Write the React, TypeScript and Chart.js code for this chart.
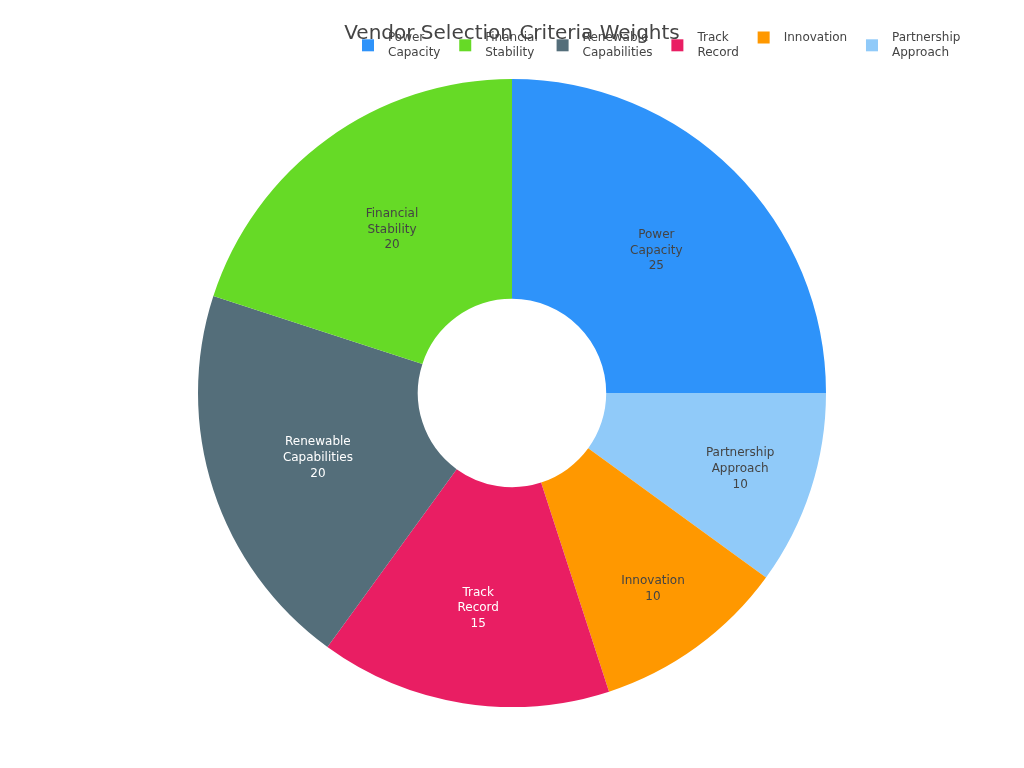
import { useEffect, useRef } from 'react';
import { Chart, registerables } from 'chart.js';

Chart.register(...registerables);

const TITLE = 'Vendor Selection Criteria Weights';
const categories = [
  'Power Capacity',
  'Financial Stability',
  'Renewable Capabilities',
  'Track Record',
  'Innovation',
  'Partnership Approach',
];
const weights = [25, 20, 20, 15, 10, 10];
const colors = ['#2E93FA', '#66DA26', '#546E7A', '#E91E63', '#FF9800', '#90CAF9'];

const FONT = '"DejaVu Sans", "Liberation Sans", sans-serif';
const TEXT_COLOR = '#444';
const LINE_H = 15.6;
const LEGEND_X = 354;
const LEGEND_Y = 29.5;
const LEGEND_GAP = 18.8;
const LABEL_DY = 1.8;

// slices go counter-clockwise from 3 o'clock in the reference: draw reversed, clockwise
const drawOrder = categories.map((_, i) => categories.length - 1 - i);

function isDark(hex: string) {
  const n = parseInt(hex.slice(1), 16);
  const r = (n >> 16) & 255, g = (n >> 8) & 255, b = n & 255;
  return (r * 299 + g * 587 + b * 114) / 1000 < 128;
}

const legendPlugin = {
  id: 'topLegend',
  beforeDraw(chart: any) {
    const ctx = chart.ctx as CanvasRenderingContext2D;
    ctx.save();
    ctx.font = `12px ${FONT}`;
    ctx.textBaseline = 'middle';
    ctx.textAlign = 'left';
    let x = LEGEND_X;
    categories.forEach((name, i) => {
      const lines = name.split(' ');
      const center = LEGEND_Y + ((lines.length - 1) * LINE_H) / 2;
      ctx.fillStyle = colors[i];
      ctx.fillRect(x, center - 6, 12, 12);
      ctx.fillStyle = TEXT_COLOR;
      let maxW = 0;
      lines.forEach((ln, j) => {
        ctx.fillText(ln, x + 26, LEGEND_Y + j * LINE_H);
        maxW = Math.max(maxW, ctx.measureText(ln).width);
      });
      x += 26 + maxW + LEGEND_GAP;
    });
    ctx.restore();
  },
};

const sliceLabelPlugin = {
  id: 'sliceLabels',
  afterDatasetsDraw(chart: any) {
    const ctx = chart.ctx as CanvasRenderingContext2D;
    const meta = chart.getDatasetMeta(0);
    const labels = chart.data.labels as string[];
    const data = chart.data.datasets[0].data as number[];
    const bg = chart.data.datasets[0].backgroundColor as string[];
    ctx.save();
    ctx.font = `12px ${FONT}`;
    ctx.textAlign = 'center';
    ctx.textBaseline = 'middle';
    meta.data.forEach((arc: any, i: number) => {
      const { x, y, startAngle, endAngle, innerRadius, outerRadius } = arc;
      const half = (endAngle - startAngle) / 2;
      const mid = startAngle + half;
      const ring = 1 - innerRadius / outerRadius;
      const rIns = Math.min(1 / (1 + 1 / Math.sin(half)), ring / 2);
      const rc = outerRadius * (1 - rIns);
      const cx = x + Math.cos(mid) * rc;
      const cy = y + Math.sin(mid) * rc + LABEL_DY;
      const lines = [...labels[i].split(' '), String(data[i])];
      const top = cy - ((lines.length - 1) * LINE_H) / 2;
      ctx.fillStyle = isDark(bg[i]) ? '#fff' : TEXT_COLOR;
      lines.forEach((ln, j) => ctx.fillText(ln, cx, top + j * LINE_H));
    });
    ctx.restore();
  },
};

export default function App() {
  const ref = useRef<HTMLCanvasElement | null>(null);
  useEffect(() => {
    if (!ref.current) return;
    const chart = new Chart(ref.current, {
      type: 'doughnut',
      data: {
        labels: drawOrder.map((i) => categories[i]),
        datasets: [
          {
            data: drawOrder.map((i) => weights[i]),
            backgroundColor: drawOrder.map((i) => colors[i]),
            borderWidth: 0,
          },
        ],
      },
      options: {
        animation: false,
        responsive: true,
        maintainAspectRatio: false,
        events: [],
        rotation: 90,
        cutout: '30%',
        layout: { padding: { top: 0, bottom: 53, left: 0, right: 0 } },
        plugins: {
          legend: { display: false },
          tooltip: { enabled: false },
          title: {
            display: true,
            text: TITLE,
            color: TEXT_COLOR,
            font: { family: FONT, size: 20, weight: 'normal', lineHeight: 1.2 },
            padding: { top: 14, bottom: 33 },
          },
        },
      },
      plugins: [legendPlugin, sliceLabelPlugin],
    });
    return () => chart.destroy();
  }, []);
  return (
    <div style={{ position: 'relative', width: 1008, height: 752 }}>
      <canvas ref={ref} />
    </div>
  );
}
